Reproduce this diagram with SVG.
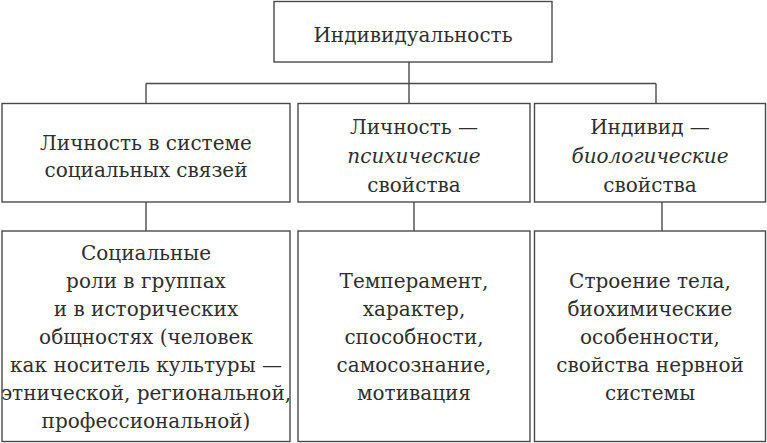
<svg xmlns="http://www.w3.org/2000/svg" width="767" height="443" viewBox="0 0 767 443">
<style>
.box{fill:#fff;stroke:#4a4a4a;stroke-width:1.4}
.t{font-family:'DejaVu Serif','Liberation Serif',serif;font-size:20px;fill:#2e2e2e;text-anchor:middle}
.i{font-style:italic}
.c{stroke:#4a4a4a;stroke-width:1.4;fill:none}
</style>
<rect width="767" height="443" fill="#fff"/>
<g id="connectors">
<path class="c" d="M409,62V83.5M146,83.5H656M146,83.5V103.5M409,83.5V103.5M656,83.5V103.5"/>
<path class="c" d="M146,202V231M414,202V231M662,202V231"/>
</g>
<g id="top"><rect class="box" x="274" y="1.5" width="278" height="60.5"/><text class="t" x="413" y="42">Индивидуальность</text></g>
<g id="n1"><rect class="box" x="2" y="103.5" width="288" height="98.5"/>
<text class="t" x="146" y="150">Личность в системе</text><text class="t" x="146" y="177">социальных связей</text></g>
<g id="n2"><rect class="box" x="298" y="103.5" width="232" height="98.5"/>
<text class="t" x="414" y="134">Личность —</text><text class="t i" x="414" y="163">психические</text><text class="t" x="414" y="192">свойства</text></g>
<g id="n3"><rect class="box" x="534.5" y="103.5" width="231" height="98.5"/>
<text class="t" x="650" y="134">Индивид —</text><text class="t i" x="650" y="163">биологические</text><text class="t" x="650" y="192">свойства</text></g>
<g id="n4"><rect class="box" x="2" y="231" width="288" height="210.5"/>
<text class="t" x="146" y="260">Социальные</text><text class="t" x="146" y="288">роли в группах</text><text class="t" x="146" y="316">и в исторических</text><text class="t" x="146" y="344">общностях (человек</text><text class="t" x="146" y="372">как носитель культуры —</text><text class="t" x="146" y="400">этнической, региональной,</text><text class="t" x="146" y="428">профессиональной)</text></g>
<g id="n5"><rect class="box" x="298" y="231" width="232" height="210.5"/>
<text class="t" x="414" y="288">Темперамент,</text><text class="t" x="414" y="316">характер,</text><text class="t" x="414" y="344">способности,</text><text class="t" x="414" y="372">самосознание,</text><text class="t" x="414" y="400">мотивация</text></g>
<g id="n6"><rect class="box" x="534.5" y="231" width="231" height="210.5"/>
<text class="t" x="650" y="288">Строение тела,</text><text class="t" x="650" y="316">биохимические</text><text class="t" x="650" y="344">особенности,</text><text class="t" x="650" y="372">свойства нервной</text><text class="t" x="650" y="400">системы</text></g>
</svg>
